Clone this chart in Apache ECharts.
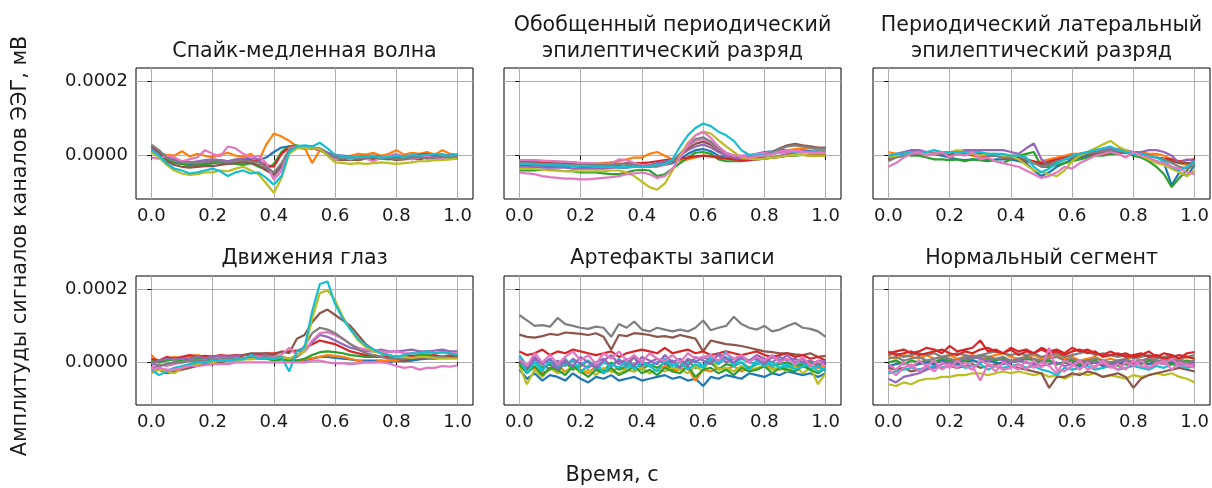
<!DOCTYPE html>
<html>
<head>
<meta charset="utf-8">
<title>Сегменты ЭЭГ</title>
<script src="https://cdn.jsdelivr.net/npm/echarts@6/dist/echarts.min.js"></script>
<style>
  html, body { margin: 0; padding: 0; background: #fff; }
  #main { width: 1212px; height: 488px; }
</style>
</head>
<body>
<div id="main"></div>
<script>
// time axis, seconds
const time = [0, 0.025, 0.05, 0.075, 0.1, 0.125, 0.15, 0.175, 0.2, 0.225,
  0.25, 0.275, 0.3, 0.325, 0.35, 0.375, 0.4, 0.425, 0.45, 0.475,
  0.5, 0.525, 0.55, 0.575, 0.6, 0.625, 0.65, 0.675, 0.7, 0.725,
  0.75, 0.775, 0.8, 0.825, 0.85, 0.875, 0.9, 0.925, 0.95, 0.975, 1];
const xTicks = [0, 0.2, 0.4, 0.6, 0.8, 1.0];
const yTicks = [0, 0.0002];
// amplitudes below are in units of 1e-6 mV
const SCALE = 1e-6;
// matplotlib tab10
const palette = ['#1f77b4', '#ff7f0e', '#2ca02c', '#d62728', '#9467bd',
  '#8c564b', '#e377c2', '#7f7f7f', '#bcbd22', '#17becf'];

// Спайк-медленная волна
const spikeColors = [0, 1, 2, 3, 4, 5, 6, 7, 8, 9];
const spikeWave = [
  [15,5,-10,-18,-22,-25,-24,-22,-20,-18, -22,-20,-15,-18,-12,-5,10,22,25,22, 20,22,18,8,0,-5,-8,-5,-6,-3, -5,-8,-2,-5,0,2,-2,0,3,0,2],
  [10,5,2,0,12,-2,5,0,-5,3, 8,0,-3,5,-15,30,60,52,40,25, 22,-20,15,5,2,-5,0,5,3,8, 0,5,15,3,8,5,10,3,15,5,3],
  [10,0,-12,-20,-22,-28,-25,-25,-20,-15, -18,-22,-25,-20,-30,-38,-22,10,25,28, 22,20,15,5,-8,-10,-12,-10,-8,-5, -8,-10,-5,-8,-5,-3,-5,-3,-2,-5,0],
  [12,5,-5,-12,-15,-18,-20,-18,-15,-12, -15,-12,-10,-12,-15,-25,-30,5,22,25, 22,20,15,5,0,-3,-5,-3,-2,0, -3,-5,2,-2,0,3,5,2,3,0,2],
  [20,5,-5,-10,-15,-18,-15,-12,-10,-12, -15,-10,-8,-5,-10,-35,-55,-30,10,22, 25,22,20,8,2,0,-2,-5,-3,-5, -2,-5,0,-3,-5,-2,0,-3,-2,0,-2],
  [25,10,-15,-25,-30,-32,-30,-28,-28,-25, -22,-20,-18,-20,-25,-40,-50,-25,15,25, 22,20,18,5,-10,-12,-10,-12,-8,-10, -5,-8,-12,-10,-8,-10,-5,-8,-3,-5,-5],
  [-5,-8,0,-5,-15,-10,-5,15,5,-2, 25,20,5,-5,0,-20,-65,-40,20,25, 22,25,15,5,-10,-5,-10,-3,-8,-15, -5,0,5,-5,-10,-5,0,-8,-5,-3,-5],
  [30,15,-5,-15,-18,-20,-20,-18,-15,-15, -18,-15,-12,-15,-18,-30,-45,-20,15,22, 20,22,18,5,-5,-8,-5,-8,-5,-3, -8,-5,-10,-8,-5,-3,-8,-5,-3,-5,-3],
  [10,-5,-25,-40,-48,-52,-50,-45,-45,-40, -42,-35,-30,-40,-50,-75,-100,-60,5,20, 22,20,18,0,-18,-20,-22,-20,-22,-20, -18,-20,-22,-20,-18,-15,-15,-12,-12,-10,-8],
  [15,0,-20,-35,-40,-48,-45,-40,-35,-42, -55,-45,-40,-48,-45,-60,-78,-55,10,25, 28,25,35,20,2,-2,-5,-3,-2,0, -5,-3,0,-2,2,0,3,5,2,0,3]
];

// Обобщенный периодический эпилептический разряд
const gpedColors = [0, 1, 2, 3, 4, 5, 6, 7, 8, 9, 6];
const gped = [
  [-25,-25,-26,-27,-28,-28,-28,-28,-30,-30, -30,-30,-30,-32,-32,-30,-30,-28,-25,-25, -20,-10,5,15,18,12,0,-5,-5,-3, 0,5,10,12,15,15,15,15,12,12,12],
  [-20,-20,-22,-22,-24,-24,-25,-25,-25,-25, -22,-20,-18,-15,-10,-5,-5,5,10,0, -10,-15,-10,-5,0,-2,-5,-8,-10,-10, -12,-5,0,5,10,15,18,20,20,18,18],
  [-40,-40,-40,-38,-38,-40,-42,-42,-45,-45, -45,-48,-50,-50,-45,-40,-38,-40,-55,-50, -35,-20,-5,8,10,5,-10,-15,-15,-15, -12,-10,-5,-5,-3,0,0,2,2,2,2],
  [-15,-15,-18,-18,-20,-20,-20,-22,-22,-22, -22,-22,-22,-22,-22,-20,-20,-18,-15,-12, -10,-8,-5,-2,0,-2,-5,-8,-10,-12, -12,-10,-8,-5,-3,0,2,2,0,0,0],
  [-30,-30,-30,-32,-32,-32,-32,-35,-35,-35, -35,-35,-33,-30,-28,-28,-28,-25,-20,-15, -12,0,15,25,30,22,10,0,-5,-8, -8,-10,-8,-5,0,5,8,10,10,10,8],
  [-12,-12,-14,-14,-15,-16,-18,-18,-20,-22, -22,-25,-25,-25,-20,-22,-25,-28,-25,-20, -15,0,20,32,38,30,15,5,0,-3, -5,-5,0,10,20,28,32,28,25,22,22],
  [-12,-12,-12,-14,-14,-16,-16,-18,-20,-20, -22,-22,-22,-10,-12,-20,-25,-28,-30,-25, -15,5,25,40,45,35,18,5,0,0, 2,5,8,10,12,15,15,12,10,10,10],
  [-20,-20,-20,-22,-22,-22,-24,-24,-25,-25, -25,-25,-25,-22,-22,-25,-28,-30,-28,-22, -15,5,30,45,50,38,20,8,0,-3, -5,-3,2,10,18,25,28,25,22,20,20],
  [-35,-35,-36,-38,-40,-40,-42,-42,-42,-42, -42,-42,-40,-40,-45,-55,-70,-85,-92,-75, -40,0,35,55,65,60,42,25,10,-5, -8,-10,-8,-5,-3,0,2,2,0,0,0],
  [-22,-22,-24,-24,-25,-26,-26,-28,-28,-28, -30,-30,-30,-30,-30,-30,-30,-28,-25,-22, -10,25,55,75,87,80,65,55,40,15, 2,0,2,5,8,10,10,10,10,10,10],
  [-45,-48,-50,-55,-58,-60,-62,-62,-64,-64, -62,-60,-58,-55,-50,-48,-45,-50,-60,-55, -35,-5,30,55,65,48,25,8,0,-2, -5,-2,0,5,8,10,12,10,8,8,8]
];

// Периодический латеральный эпилептический разряд
const lpdColors = [0, 1, 2, 3, 4, 5, 7, 8, 9, 6];
const lpd = [
  [-5,0,5,10,8,5,5,0,-5,-10, -12,-10,-12,-15,-10,-10,-10,-15,-20,-40, -55,-45,-30,-20,-10,-5,0,5,8,10, 12,8,5,0,-10,-15,-20,-80,-45,-55,-25],
  [10,5,5,10,10,8,5,8,5,10, 5,0,-5,0,0,-5,0,0,-10,-20, -15,-10,-5,0,5,5,10,10,15,20, 15,10,5,10,5,5,0,-10,-20,-25,-15],
  [-5,0,5,0,0,-5,-10,-10,-12,-10, -15,-10,-12,-10,-15,-20,-10,0,5,10, -30,-30,-25,-20,-15,-10,-5,0,0,5, 5,10,0,-5,-15,-30,-50,-85,-60,-40,-10],
  [-5,0,5,8,5,5,5,8,5,5, 5,3,0,0,0,-5,-5,-5,-10,-15, -20,-15,-10,-5,0,0,3,5,5,8, 10,8,5,3,0,-5,-8,-10,-15,-12,-10],
  [0,5,10,15,15,10,8,10,10,12, 15,15,15,15,15,15,10,5,20,33, -10,-25,-20,-10,0,5,5,10,15,20, 18,15,10,10,15,15,10,0,-20,-10,-15],
  [-10,-5,0,5,5,5,5,3,5,5, 5,5,5,5,0,0,-5,-10,-15,-20, -25,-20,-15,-10,-5,0,5,5,8,10, 10,8,5,5,0,-5,-10,-15,-20,-20,-20],
  [-15,-5,0,5,5,3,5,5,8,8, 5,5,3,0,0,-5,-5,0,-10,-20, -30,-25,-15,-10,-5,0,5,10,12,15, 12,10,5,5,0,-5,-10,-20,-30,-35,-25],
  [-5,0,5,10,8,5,5,10,8,15, 10,5,0,5,5,0,0,-10,-25,-40, -45,-50,-55,-40,-15,0,10,20,30,40, 25,15,5,0,-10,-20,-25,-35,-45,-55,-40],
  [0,5,5,10,10,10,15,10,10,10, 10,10,10,5,5,5,0,0,-5,-30, -45,-35,-20,-10,0,5,10,15,20,25, 15,10,5,5,0,-5,-15,-30,-40,-30,-15],
  [-30,-20,-5,5,10,0,5,10,-5,5, 0,10,-10,-5,-15,-20,-25,-30,-40,-50, -60,-55,-45,-30,-35,-20,-10,0,5,10, 5,-5,10,0,-5,-15,-20,-30,-35,-45,-50]
];

// Движения глаз
const eyeColors = [0, 1, 2, 3, 4, 5, 6, 7, 8, 9, 6];
const eyeMove = [
  [-15,-10,-5,0,0,5,5,5,5,8, 8,10,10,10,10,12,10,12,10,5, 5,10,15,15,12,10,8,5,5,5, 5,0,5,3,5,8,10,10,12,15,15],
  [20,0,10,15,12,18,20,15,18,15, 12,15,12,10,10,15,10,12,5,5, 8,12,15,20,18,15,10,5,0,0, 5,5,5,10,15,20,25,25,28,25,20],
  [5,0,5,8,5,8,10,10,8,10, 10,12,10,12,10,10,5,8,5,5, 10,20,28,30,28,25,20,18,15,15, 15,15,15,15,18,20,20,18,15,15,15],
  [10,5,15,10,15,20,15,18,15,20, 18,20,20,22,20,25,25,28,30,32, 40,50,60,55,50,40,30,25,20,20, 15,18,15,15,18,12,15,20,15,18,20],
  [-5,5,10,8,10,12,15,12,15,18, 15,18,20,20,18,20,15,15,10,15, 30,55,75,70,60,50,40,35,30,30, 35,30,30,32,35,30,30,32,35,30,30],
  [-10,-20,-30,-25,-20,-15,-10,-5,-5,0, 5,5,20,25,25,25,20,30,25,65, 75,110,135,145,130,115,100,75,50,35, 25,20,10,5,10,10,15,12,15,20,15],
  [-15,-5,-10,-5,0,5,5,5,8,10, 10,12,12,15,15,15,15,20,40,20, 30,60,80,83,75,65,50,40,35,30, 30,28,30,25,25,25,28,25,28,25,25],
  [0,-10,-5,0,0,5,5,5,8,8, 10,10,12,12,12,15,12,15,10,15, 45,80,95,90,80,65,50,35,25,20, 15,10,10,10,12,15,12,15,15,12,12],
  [-30,-20,-25,-30,-15,-10,-5,0,0,5, 5,5,8,8,10,12,10,15,10,20, 30,120,190,198,170,125,90,60,42,30, 25,20,15,15,12,15,15,12,10,10,10],
  [-20,-35,-25,-15,-10,-5,0,0,5,5, 5,8,8,20,10,12,10,15,-25,30, 40,140,215,222,160,120,90,65,47,35, 25,20,15,20,25,25,30,25,28,25,20],
  [-20,-15,-20,-20,-15,-10,-10,-8,-5,-5, -5,0,0,0,0,0,0,0,0,0, 0,5,5,0,-3,-3,-5,-3,0,0, 0,-3,-10,-15,-12,-20,-15,-15,-10,-12,-8]
];

// Артефакты записи
const artColors = [7, 5, 3, 0, 1, 2, 8, 9, 4, 2, 9, 4, 6];
const artifacts = [
  [130,115,100,102,98,122,105,100,95,92, 98,95,70,105,95,112,90,85,95,90, 85,90,85,95,115,88,95,100,125,105, 95,90,100,85,90,100,108,95,92,85,70],
  [76,70,68,72,78,75,82,80,78,75, 80,70,35,75,72,80,78,75,70,72, 68,75,70,65,30,60,55,50,48,45, 40,35,30,28,25,25,22,20,25,15,18],
  [30,20,25,35,20,30,25,35,30,25, 20,25,30,15,25,30,35,30,25,40, 25,30,35,25,30,20,25,30,25,20, 25,30,20,15,20,25,15,20,10,15,5],
  [-20,-45,-30,-50,-35,-40,-50,-30,-45,-55, -40,-45,-35,-50,-45,-40,-50,-45,-40,-35, -45,-40,-50,-45,-65,-40,-45,-35,-40,-45, -30,-35,-40,-30,-35,-25,-30,-35,-30,-40,-30],
  [-10,-25,-15,-30,-20,-10,-25,-15,-20,-30, -10,-20,-25,-15,-20,-25,-15,-30,-20,-10, -25,-20,-15,-50,-20,-25,-15,-20,-10,-25, -15,-20,-10,-15,-20,-10,-15,-5,-10,-15,-10],
  [10,-20,5,-15,-5,-25,0,-20,-10,5, -15,-25,0,-20,-10,15,-20,-5,-15,0, -20,-10,5,-15,-10,0,-20,-5,-10,0, -15,-5,0,-10,-5,0,-10,-5,0,-10,0],
  [-10,-60,-20,-40,-15,-30,-25,-10,-30,-20, -35,-15,-25,-30,-20,-25,-15,-30,-20,-25, -15,-20,-30,-10,-25,15,-20,-15,-25,-10, -20,-15,-10,-20,-15,-25,-10,-30,-15,-60,-30],
  [20,-10,5,-20,0,-10,10,-15,-5,5, -20,0,-10,10,-15,-5,5,-10,0,10, -5,-15,0,5,-10,20,0,30,-5,10, 0,-5,5,-10,0,-15,-5,0,-20,-10,-25],
  [0,-15,10,-5,-20,5,-10,10,-5,-15, 0,10,-10,5,-5,15,-10,0,10,-5, 5,-15,10,0,15,5,20,0,10,15, 5,20,10,0,15,5,10,0,5,-5,5],
  [-5,-30,-10,-35,-15,-20,-35,-10,-25,-40, -20,-30,-15,-35,-25,-10,-30,-20,-35,-15, -25,-30,-10,-40,-20,-15,-30,-20,-35,-15, -25,-20,-10,-30,-15,-20,-25,-10,-20,-30,-15],
  [15,-30,0,-25,10,-15,-5,5,-25,-10, 0,-30,-5,-15,5,-20,0,-10,-25,5, -10,0,-20,-5,-15,10,-5,15,-10,0, -20,5,-10,0,-15,-5,-20,-10,-5,-25,-15],
  [5,-10,15,-5,10,-20,5,-10,15,0, -15,5,20,-5,10,-10,15,5,-5,20, 0,10,-10,15,5,-5,25,10,0,15, 5,10,-5,15,5,20,0,10,-10,5,0],
  [10,-10,25,0,20,-5,15,30,5,20, -5,25,10,30,5,20,0,25,10,5, 20,0,25,10,15,20,5,25,10,20, 0,15,5,20,0,10,-5,15,-10,5,-10]
];

// Нормальный сегмент
const normColors = [8, 5, 9, 0, 2, 1, 7, 3, 4, 7, 3, 6, 6];
const normal = [
  [-60,-65,-55,-60,-50,-45,-45,-40,-40,-35, -35,-30,-30,-35,-30,-25,-30,-25,-30,-35, -30,-40,-35,-45,-35,-30,-35,-30,-40,-35, -40,-45,-35,-40,-35,-30,-35,-30,-40,-45,-55],
  [-15,-20,-15,-25,-20,-15,-10,-15,-10,-15, -10,-5,-15,-10,-5,0,-10,-15,-20,-25, -30,-70,-40,-40,-30,-35,-25,-30,-40,-35, -30,-40,-70,-45,-35,-30,-25,-20,-15,-20,-25],
  [-30,-25,-20,-15,-20,-15,-10,-15,-10,-5, -15,-10,-5,-20,-10,-15,-10,-5,-15,-10, -20,-25,-35,-15,-20,-15,-10,-20,-15,-10, -20,-15,-10,-15,-20,-10,-15,-5,-10,-15,-10],
  [-10,-5,0,-10,-5,0,-5,5,0,-5, 0,5,0,5,0,-5,0,5,0,-5, 0,5,-5,0,-5,-10,-5,0,-10,-5, 0,-5,-10,0,-5,0,-5,0,-5,0,-5],
  [0,5,-5,5,0,5,0,10,5,0, 5,10,15,10,5,10,0,5,10,5, 0,5,-5,0,5,-5,0,5,-5,0, -10,-5,0,-5,5,0,5,-5,0,5,0],
  [15,10,20,15,10,20,10,15,20,10, 15,20,10,15,20,25,15,10,15,20, 10,15,20,10,15,5,10,15,5,10, 5,10,15,5,10,15,5,10,5,15,10],
  [20,25,15,20,25,20,25,15,20,25, 20,15,20,25,30,25,20,25,20,25, 15,20,25,15,20,25,30,20,25,20, 15,20,10,15,20,10,15,20,10,15,20],
  [25,30,35,25,30,40,35,25,45,30, 35,40,60,30,35,25,40,30,35,25, 40,30,35,25,40,30,35,25,20,30, 20,25,15,20,30,15,25,20,10,25,28],
  [-45,-55,-40,-35,-30,-20,-15,-5,0,5, 10,15,10,5,10,5,0,5,0,-5, -10,-5,0,-10,-5,0,5,0,-5,-10, 0,5,0,5,10,5,0,5,0,-5,0],
  [10,15,5,10,15,5,10,15,10,5, 15,10,20,15,10,15,5,10,15,10, 5,10,15,5,10,0,5,10,5,0, 5,10,0,5,10,5,0,10,5,0,5],
  [30,20,25,30,20,25,30,35,25,20, 30,25,35,40,30,25,35,20,30,25, 35,25,30,20,30,35,25,30,15,20, 25,15,20,25,15,20,10,15,20,15,10],
  [-20,-35,-15,-5,-25,-10,5,-20,-5,-15, 0,-10,-50,-5,-10,-20,-15,-5,-20,5, -15,40,-20,-25,-10,5,-20,-10,0,-15, -5,-20,5,-10,-15,0,-5,10,-10,-5,-15],
  [-5,-20,0,-15,5,-10,-25,0,-15,5, -10,-20,5,-5,-25,0,-10,-20,5,-15, 0,-10,-30,5,-5,-20,0,-15,5,-10, -20,0,-10,5,-15,-5,5,-20,0,-10,-5]
];

const panels = [
  { title: ['Спайк-медленная волна'], colors: spikeColors, values: spikeWave },
  { title: ['Обобщенный периодический', 'эпилептический разряд'], colors: gpedColors, values: gped },
  { title: ['Периодический латеральный', 'эпилептический разряд'], colors: lpdColors, values: lpd },
  { title: ['Движения глаз'], colors: eyeColors, values: eyeMove },
  { title: ['Артефакты записи'], colors: artColors, values: artifacts },
  { title: ['Нормальный сегмент'], colors: normColors, values: normal }
];

const FONT = 'DejaVu Sans';
const colLeft = [136, 504, 873];
const boxWidth = 337;
const rowTop = [68, 276];
const rowHeight = [131, 129];
const titleY = [52, 259];
const titleGap = 26;
const titleFont = '20.6px "' + FONT + '"';
const labelFont = '20.8px "' + FONT + '"';

const chart = echarts.init(document.getElementById('main'));
const grids = [], xAxes = [], yAxes = [], series = [], graphics = [];

panels.forEach((p, k) => {
  const r = Math.floor(k / 3), c = k % 3;
  grids.push({
    left: colLeft[c], top: rowTop[r], width: boxWidth, height: rowHeight[r],
    show: true, borderColor: '#000', borderWidth: 1, backgroundColor: 'transparent'
  });
  xAxes.push({
    gridIndex: k, type: 'value', min: -0.05, max: 1.05,
    axisLine: { show: false },
    axisTick: { show: true, customValues: xTicks, length: 4, lineStyle: { color: '#000', width: 1 } },
    axisLabel: { customValues: xTicks, formatter: v => v.toFixed(1), color: '#1a1a1a',
      fontFamily: FONT, fontSize: 18, margin: 8 },
    splitLine: { show: true, lineStyle: { color: '#b0b0b0', width: 1 } }
  });
  yAxes.push({
    gridIndex: k, type: 'value', min: -0.000117, max: 0.000237,
    axisLine: { show: false },
    axisTick: { show: true, customValues: yTicks, length: 4, lineStyle: { color: '#000', width: 1 } },
    axisLabel: { show: c === 0, customValues: yTicks, formatter: v => v.toFixed(4), color: '#1a1a1a',
      fontFamily: FONT, fontSize: 18, margin: 8 },
    splitLine: { show: true, lineStyle: { color: '#b0b0b0', width: 1 } }
  });
  p.values.forEach((vals, j) => {
    const col = palette[p.colors[j]];
    series.push({
      type: 'line', xAxisIndex: k, yAxisIndex: k,
      symbol: 'none', silent: true, animation: false,
      lineStyle: { width: 2.2, color: col }, itemStyle: { color: col },
      data: time.map((t, i) => [t, vals[i] * SCALE])
    });
  });
  p.title.forEach((line, m) => {
    graphics.push({
      type: 'text', x: colLeft[c] + boxWidth / 2,
      y: titleY[r] - (p.title.length - 1 - m) * titleGap,
      style: { text: line, fill: '#1a1a1a', font: titleFont, align: 'center', verticalAlign: 'middle' }
    });
  });
});

graphics.push({
  type: 'text', x: 21, y: 246, rotation: Math.PI / 2,
  style: { text: 'Амплитуды сигналов каналов ЭЭГ, мВ', fill: '#1a1a1a', font: labelFont,
    align: 'center', verticalAlign: 'middle' }
});
graphics.push({
  type: 'text', x: 612, y: 476,
  style: { text: 'Время, с', fill: '#1a1a1a', font: labelFont, align: 'center', verticalAlign: 'middle' }
});

chart.setOption({
  animation: false,
  backgroundColor: '#fff',
  grid: grids,
  xAxis: xAxes,
  yAxis: yAxes,
  series: series,
  graphic: graphics
});
</script>
</body>
</html>
